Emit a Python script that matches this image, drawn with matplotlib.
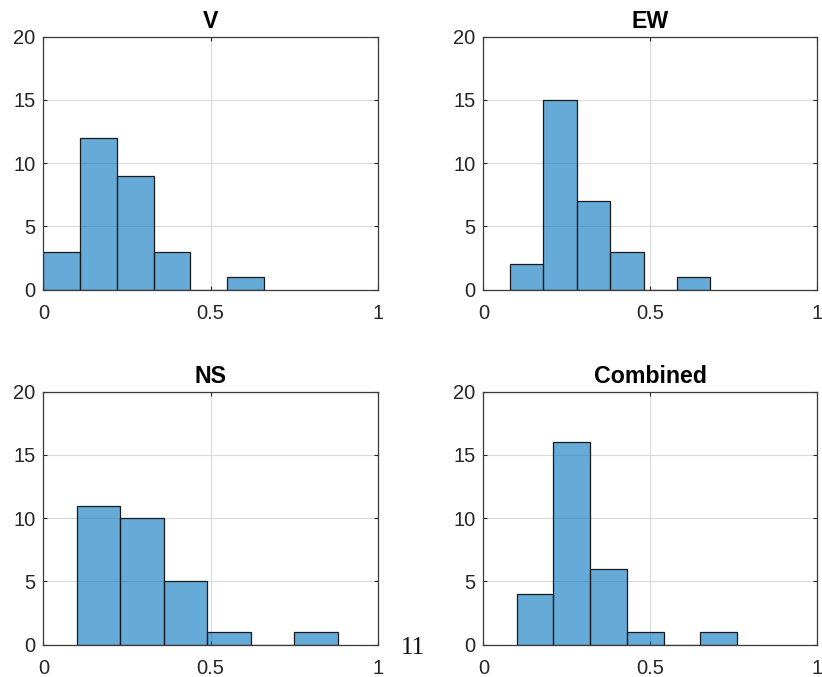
import numpy as np
import matplotlib.pyplot as plt

# histogram bin edges and counts
titles = ["V", "EW", "NS", "Combined"]
edges_v = [0.0, 0.11, 0.22, 0.33, 0.44, 0.55, 0.66]
counts_v = [3, 12, 9, 3, 0, 1]
edges_ew = [0.08, 0.18, 0.28, 0.38, 0.48, 0.58, 0.68]
counts_ew = [2, 15, 7, 3, 0, 1]
edges_ns = [0.10, 0.23, 0.36, 0.49, 0.62, 0.75, 0.88]
counts_ns = [11, 10, 5, 1, 0, 1]
edges_comb = [0.10, 0.21, 0.32, 0.43, 0.54, 0.65, 0.76]
counts_comb = [4, 16, 6, 1, 0, 1]

all_edges = [edges_v, edges_ew, edges_ns, edges_comb]
all_counts = [counts_v, counts_ew, counts_ns, counts_comb]

plt.rcParams["font.family"] = ["Liberation Sans", "DejaVu Sans"]

fig = plt.figure(figsize=(8.22, 6.77), dpi=100)

# axes rectangles (left, bottom, width, height) in figure fraction
rects = [
    [0.0527, 0.5721, 0.4068, 0.3737],
    [0.5880, 0.5721, 0.4063, 0.3737],
    [0.0527, 0.0477, 0.4068, 0.3737],
    [0.5880, 0.0477, 0.4063, 0.3737],
]

face = (0.0, 0.447, 0.741, 0.6)
axcol = "#262626"

for rect, title, edges, counts in zip(rects, titles, all_edges, all_counts):
    ax = fig.add_axes(rect)
    edges = np.array(edges)
    ax.bar(edges[:-1], counts, width=np.diff(edges), align="edge",
           color=face, edgecolor="#1a1a1a", linewidth=0.9, zorder=3)
    ax.set_xlim(0, 1)
    ax.set_ylim(0, 20)
    ax.set_xticks([0, 0.5, 1])
    ax.set_xticklabels(["0", "0.5", "1"])
    ax.set_yticks([0, 5, 10, 15, 20])
    ax.grid(True, color="#dadada", linewidth=0.8, zorder=0)
    ax.set_axisbelow(True)
    for s in ax.spines.values():
        s.set_color("#3a3a3a")
        s.set_linewidth(0.9)
        s.set_zorder(4)
    ax.tick_params(direction="in", length=3, width=0.8, color=axcol,
                   labelcolor=axcol, labelsize=14.5, top=True, right=True)
    ax.tick_params(axis="x", pad=10)
    ax.tick_params(axis="y", pad=5.5)
    ax.set_title(title, fontsize=16.7, fontweight="bold", pad=6.5)

# page number that sits in the picture
fig.text(413 / 822, 1 - 648 / 677, "11", family=["Liberation Serif", "DejaVu Serif"],
         fontsize=18, ha="center", va="center", color="#111111")

fig.savefig("out.png", dpi=100)
